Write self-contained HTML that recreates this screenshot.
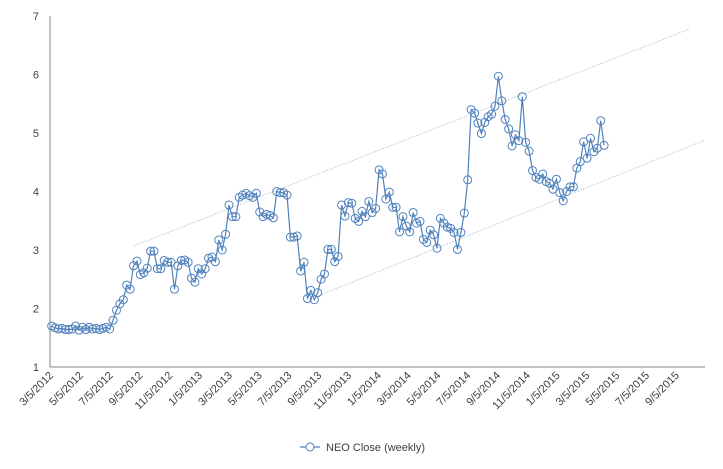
<!DOCTYPE html>
<html><head><meta charset="utf-8"><style>
html,body{margin:0;padding:0;background:#fff;}
svg{display:block;font-family:"Liberation Sans",sans-serif;}
</style></head><body>
<svg id="chart" width="723" height="469" viewBox="0 0 723 469">
<g id="trend"></g>
<g id="axes"></g>
<g id="series"></g>
<g>
<line x1="300" y1="447" x2="320" y2="447" stroke="#4f81bd" stroke-width="1.2"/>
<circle cx="310" cy="447" r="4" fill="#fff" stroke="#4f81bd"/>
<text x="326" y="451" font-size="11" fill="#404040">NEO Close (weekly)</text>
</g>
</svg>
<script>
const yTicks = [1,2,3,4,5,6,7];
const xTickLabels = ["3/5/2012","5/5/2012","7/5/2012","9/5/2012","11/5/2012","1/5/2013","3/5/2013","5/5/2013","7/5/2013","9/5/2013","11/5/2013","1/5/2014","3/5/2014","5/5/2014","7/5/2014","9/5/2014","11/5/2014","1/5/2015","3/5/2015","5/5/2015","7/5/2015","9/5/2015"];
const closeValues = [1.70,1.67,1.65,1.66,1.64,1.64,1.65,1.70,1.63,1.68,1.64,1.68,1.65,1.66,1.64,1.66,1.68,1.65,
1.80,1.97,2.08,2.15,2.40,2.33,2.73,2.81,2.58,2.61,2.69,2.98,2.98,2.68,2.68,2.82,2.79,2.79,2.33,2.73,2.82,2.83,2.79,2.52,2.45,2.68,2.59,2.68,2.86,2.88,2.80,3.17,3.00,3.27,3.77,3.57,3.57,3.90,3.94,3.97,3.93,3.90,3.97,3.65,3.57,3.61,3.59,3.55,
4.00,3.98,3.98,3.94,3.22,3.22,3.24,2.64,2.79,2.17,2.31,2.15,2.27,2.50,2.59,3.01,3.01,2.80,2.89,3.77,3.58,3.81,3.80,3.54,3.49,3.66,3.57,3.83,3.64,3.71,4.37,4.30,3.87,3.99,3.73,3.73,3.31,3.57,3.41,3.31,3.64,3.46,3.49,3.18,3.13,3.34,3.26,3.03,3.54,3.46,3.39,3.37,3.30,3.01,3.30,3.63,4.20,
5.40,5.34,5.17,4.99,5.18,5.28,5.32,5.46,5.97,5.55,5.23,5.07,4.78,4.97,4.87,5.62,4.84,4.69,4.36,4.24,4.21,4.30,4.17,4.14,4.04,4.21,3.98,3.84,4.00,4.08,4.08,4.40,4.51,4.85,4.57,4.91,4.68,4.74,5.21,4.79];
const trendUpper = [[0.128,3.07],[0.977,6.78]];
const trendLower = [[0.406,2.20],[1.0,4.88]];

const NS="http://www.w3.org/2000/svg";
const X0=50,X1=705,Y0=367,Y1=16;
const tickStep=29.8;
const weekPx=3.41;
function yS(v){return Y0-(v-1)*(Y0-Y1)/6;}
function xTick(i){return X0+i*tickStep;}
function xWeek(i){return X0+1.7+i*weekPx;}
function xFrac(f){return X0+f*(X1-X0);}
function mk(tag,attrs,parent){const e=document.createElementNS(NS,tag);for(const k in attrs)e.setAttribute(k,attrs[k]);parent.appendChild(e);return e;}

const axes=document.getElementById('axes');
let a=mk('line',{x1:X0,y1:Y1,x2:X0,y2:Y0,stroke:'#868686'},axes);


a=mk('line',{x1:X0,y1:Y0,x2:X1,y2:Y0,stroke:'#868686'},axes);


yTicks.forEach(v=>{
  const t=mk('text',{x:39,y:yS(v)+4,'text-anchor':'end','font-size':'11',fill:'#404040'},axes);
  t.textContent=v;
  
  
});
xTickLabels.forEach((s,i)=>{
  const x=xTick(i)+4,y=376;
  const t=mk('text',{x:x,y:y,'text-anchor':'end','font-size':'11',fill:'#404040',transform:`rotate(-45 ${x} ${y})`},axes);
  t.textContent=s;
  
  
});

const tr=document.getElementById('trend');
[trendUpper,trendLower].forEach((p,k)=>{
  const l=mk('line',{x1:xFrac(p[0][0]),y1:yS(p[0][1]),x2:xFrac(p[1][0]),y2:yS(p[1][1]),stroke:'#b8c4d8','stroke-width':'1','stroke-dasharray':'1.5 1.5'},tr);
  
  
});

const ser=document.getElementById('series');
const pts=closeValues.map((v,i)=>xWeek(i).toFixed(1)+','+yS(v).toFixed(1)).join(' ');
const pl=mk('polyline',{points:pts,fill:'none',stroke:'#4f81bd','stroke-width':'1.2'},ser);


closeValues.forEach((v,i)=>{
  const c=mk('circle',{cx:xWeek(i),cy:yS(v),r:4,fill:'none',stroke:'#4f81bd','stroke-width':'1'},ser);
  
  
});
</script>
</body></html>
